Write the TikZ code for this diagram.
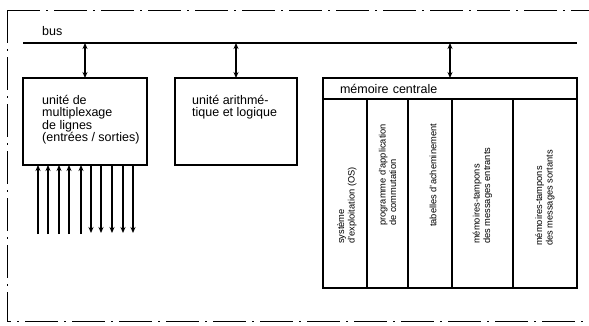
\documentclass[tikz,border=0pt]{standalone}
\usepackage{fontspec}
\setmainfont{Liberation Sans}
\usepackage{tikz}
\usetikzlibrary{arrows.meta, positioning}

\begin{document}
\begin{tikzpicture}[
    x=1pt, y=-1pt,
    % styles for the boxes, texts and lines
    box/.style = {rectangle, draw, line width=1.6pt, inner sep=0pt, outer sep=0pt, minimum height=87pt},
    cell/.style = {rectangle, draw, line width=1.2pt, inner sep=0pt, outer sep=0pt, minimum height=189pt, anchor=north west},
    txt/.style = {align=left, inner sep=0pt, font=\fontsize{12.5}{12.5}\selectfont},
    coltxt/.style = {rotate=90, anchor=west, align=left, inner sep=0pt, font=\fontsize{9.3}{10.5}\selectfont},
    busline/.style = {line width=2pt},
    biarrow/.style = {line width=1.3pt, {Stealth[length=6pt,width=5pt]}-{Stealth[length=6pt,width=5pt]}},
    sig/.style = {line width=1.3pt, -{Stealth[length=6pt,width=5pt]}},
    frame/.style = {line width=0.9pt, dash pattern=on 33pt off 6pt on 2pt off 6pt}
]
    \useasboundingbox (0,0) rectangle (589,325);

    % outer dash-dot frame
    \draw[frame] (7,10) -- (589,10);
    \draw[frame] (7,10) -- (7,321) -- (589,321);

    % bus
    \coordinate (busL) at (23,43);
    \coordinate (busR) at (577,43);
    \draw[busline] (busL) -- (busR);
    \node[txt, anchor=base west] (buslbl) at (42,35) {bus};

    % 1. the three units
    \node[box, minimum width=124pt, anchor=north west] (mux) at (23,78) {};
    \node[box, minimum width=122pt, right=28pt of mux] (alu) {};
    \node[rectangle, draw, line width=1.6pt, outer sep=0pt, inner xsep=17pt, inner ysep=0pt,
          minimum height=21pt, text width=220pt, align=left, font=\fontsize{12.5}{12.5}\selectfont,
          right=26pt of alu.north east, anchor=north west] (mem) {mémoire centrale};

    \node[txt, anchor=north west] (muxtxt) at ([xshift=19pt,yshift=-17pt]mux.north west)
        {unité de\\multiplexage\\de lignes\\(entrées / sorties)};
    \node[txt, anchor=north west] (alutxt) at ([xshift=17pt,yshift=-17pt]alu.north west)
        {unité arithmé-\\tique et logique};

    % 2. columns of the central memory
    \node[cell, minimum width=44pt] (c1) at (mem.south west) {};
    \node[cell, minimum width=41pt] (c2) at (c1.north east) {};
    \node[cell, minimum width=44pt] (c3) at (c2.north east) {};
    \node[cell, minimum width=61pt] (c4) at (c3.north east) {};
    \node[cell, minimum width=64pt] (c5) at (c4.north east) {};

    \node[coltxt] (os)   at ([xshift=2pt,yshift=44pt]c1.south) {système\\d'exploitation (OS)};
    \node[coltxt] (prog) at ([yshift=62pt]c2.south) {programme d'application\\de commutation};
    \node[coltxt] (tab)  at ([xshift=3pt,yshift=61pt]c3.south) {tabelles d'acheminement};
    \node[coltxt] (mte)  at ([yshift=44pt]c4.south) {mémoires-tampons\\des messages entrants};
    \node[coltxt] (mts)  at ([yshift=42pt]c5.south) {mémoires-tampons\\des messages sortants};

    % 3. links to the bus
    \draw[biarrow] (mux.north |- busL) -- (mux.north);
    \draw[biarrow] (alu.north |- busL) -- (alu.north);
    \draw[biarrow] (mem.north |- busL) -- (mem.north);

    % 4. lines in and out
    \foreach \x in {38,48,59,69,81} {
        \coordinate (lin) at (\x,234);
        \draw[sig] (lin) -- (lin |- mux.south);
    }
    \foreach \x in {91,101,112,123,133} {
        \coordinate (lout) at (\x,233);
        \draw[sig] (lout |- mux.south) -- (lout);
    }

\end{tikzpicture}
\end{document}
